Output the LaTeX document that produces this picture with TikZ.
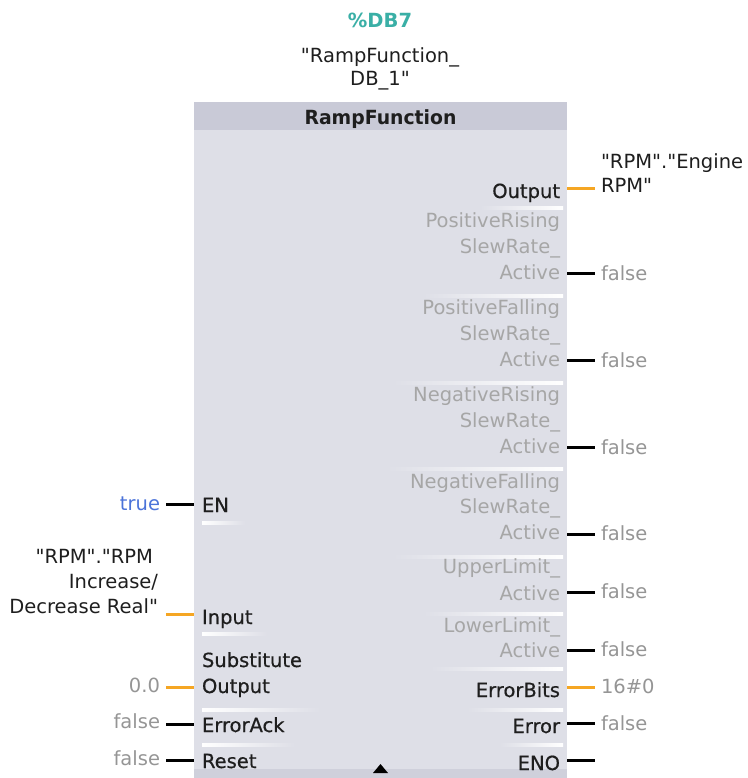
\documentclass[tikz,border=0pt]{standalone}
\usepackage{fontspec}
\setmainfont{DejaVu Sans}[Ligatures=TeXOff]
\newfontface\semibf{DejaVu Sans}[Ligatures=TeXOff,FakeBold=0.6]
\definecolor{bodyc}{HTML}{DEDFE7}
\definecolor{headc}{HTML}{C9CAD7}
\definecolor{footc}{HTML}{CFD0DB}
\definecolor{dbteal}{HTML}{3AAFA6}
\definecolor{pinorange}{HTML}{F5A623}
\definecolor{inact}{HTML}{A6A6A6}
\definecolor{valgray}{HTML}{959595}
\definecolor{trueblue}{HTML}{4B73D9}
\definecolor{lbl}{HTML}{1E1E1E}
\begin{document}
\begin{tikzpicture}[x=1pt,y=-1pt,
  every node/.style={inner sep=0pt, outer sep=0pt, font=\fontsize{19.5}{26}\selectfont},
  rl/.style={anchor=base east, text=lbl, font=\fontsize{19.5}{26}\semibf},
  ri/.style={anchor=base east, text=inact},
  ll/.style={anchor=base west, text=lbl, font=\fontsize{19.5}{26}\semibf},
  rval/.style={anchor=base west, text=valgray},
  lval/.style={anchor=base east, text=valgray},
  bpin/.style={line width=3pt, black},
  opin/.style={line width=3pt, pinorange},
  sepr/.style={left color=bodyc, right color=white},
  sepl/.style={left color=white, right color=bodyc}]
\useasboundingbox (0,0) rectangle (747,778);
% block body
\fill[bodyc] (194,102) rectangle (567,778);
\fill[headc] (194,102) rectangle (567,130);
\fill[footc] (194,769) rectangle (567,778);
\fill[black] (373,773) -- (388,773) -- (380.5,764) -- cycle;
% separators right
\foreach \y/\x in {208/480,296/423,383/393,469/387,557/393,614/423,669/430,710/467,745/500}
  \shade[sepr] (\x,\y-1.5) rectangle (563,\y+1.5);
% separators left
\foreach \y/\x in {523/245,634/267,710/320,745/295}
  \shade[sepl] (202,\y-1.5) rectangle (\x,\y+1.5);
% title
\node[anchor=base, text=dbteal, font=\fontsize{19.5}{26}\selectfont\bfseries] (inst) at (380,28) {\%DB7};
\node[anchor=base, text=lbl] (dbn1) at (380,63) {"RampFunction\_};
\node[anchor=base, text=lbl] (dbn2) at (380,86) {DB\_1"};
\node[anchor=base, text=lbl, font=\fontsize{19.5}{26}\selectfont\bfseries] (hdr) at (380.5,125) {\scalebox{0.965}[1]{RampFunction}};
% right labels
\node[rl] (oOut) at (560,198) {Output};
\node[ri] (p1a) at (560,227) {PositiveRising};
\node[ri] (p1b) at (560,253) {SlewRate\_};
\node[ri] (p1c) at (560,279) {Active};
\node[ri] (p2a) at (560,314) {PositiveFalling};
\node[ri] (p2b) at (560,340) {SlewRate\_};
\node[ri] (p2c) at (560,366) {Active};
\node[ri] (p3a) at (560,401) {NegativeRising};
\node[ri] (p3b) at (560,427) {SlewRate\_};
\node[ri] (p3c) at (560,453) {Active};
\node[ri] (p4a) at (560,488) {NegativeFalling};
\node[ri] (p4b) at (560,513) {SlewRate\_};
\node[ri] (p4c) at (560,539) {Active};
\node[ri] (p5a) at (560,573) {UpperLimit\_};
\node[ri] (p5b) at (560,600) {Active};
\node[ri] (p6a) at (560,632) {LowerLimit\_};
\node[ri] (p6b) at (560,657) {Active};
\node[rl] (oEB) at (560,697) {ErrorBits};
\node[rl] (oErr) at (560,733) {Error};
\node[rl] (oENO) at (560,770) {ENO};
% right values
\node[anchor=base west, text=lbl] (vOut1) at (601,168) {"RPM"."Engine};
\node[anchor=base west, text=lbl] (vOut2) at (601,192) {RPM"};
\node[rval] (v1) at (601,280) {false};
\node[rval] (v2) at (601,367) {false};
\node[rval] (v3) at (601,454) {false};
\node[rval] (v4) at (601,540) {false};
\node[rval] (v5) at (601,598) {false};
\node[rval] (v6) at (601,656) {false};
\node[rval] (vEB) at (601,693) {16\#0};
\node[rval] (vErr) at (601,730) {false};
% right pins
\foreach \n/\y/\s in {Out/188/opin,1/273/bpin,2/360/bpin,3/447/bpin,4/534/bpin,5/592/bpin,6/650/bpin,EB/687/opin,Err/723/bpin,ENO/760/bpin}{
  \coordinate (ra\n) at (567,\y);
  \coordinate (rb\n) at (595,\y);
  \draw[\s] (ra\n) -- (rb\n);
}
% left labels
\node[ll] (iEN) at (202,512) {EN};
\node[ll] (iIn) at (202,624) {Input};
\node[ll] (iSa) at (202,667) {Substitute};
\node[ll] (iSb) at (202,693) {Output};
\node[ll] (iAck) at (202,732) {ErrorAck};
\node[ll] (iRst) at (202,768) {Reset};
% left values
\node[anchor=base east, text=trueblue] (vEN) at (160,510) {true};
\node[anchor=base east, text=lbl] (vIn1) at (153,563) {"RPM"."RPM};
\node[anchor=base east, text=lbl] (vIn2) at (158,588) {Increase/};
\node[anchor=base east, text=lbl] (vIn3) at (158,613) {Decrease Real"};
\node[lval] (vSub) at (160,692) {0.0};
\node[lval] (vAck) at (160,728) {false};
\node[lval] (vRst) at (160,765) {false};
% left pins
\foreach \n/\y/\s in {EN/504/bpin,In/614/opin,Sub/687/opin,Ack/724/bpin,Rst/760/bpin}{
  \coordinate (la\n) at (166,\y);
  \coordinate (lb\n) at (194,\y);
  \draw[\s] (la\n) -- (lb\n);
}
\end{tikzpicture}
\end{document}
